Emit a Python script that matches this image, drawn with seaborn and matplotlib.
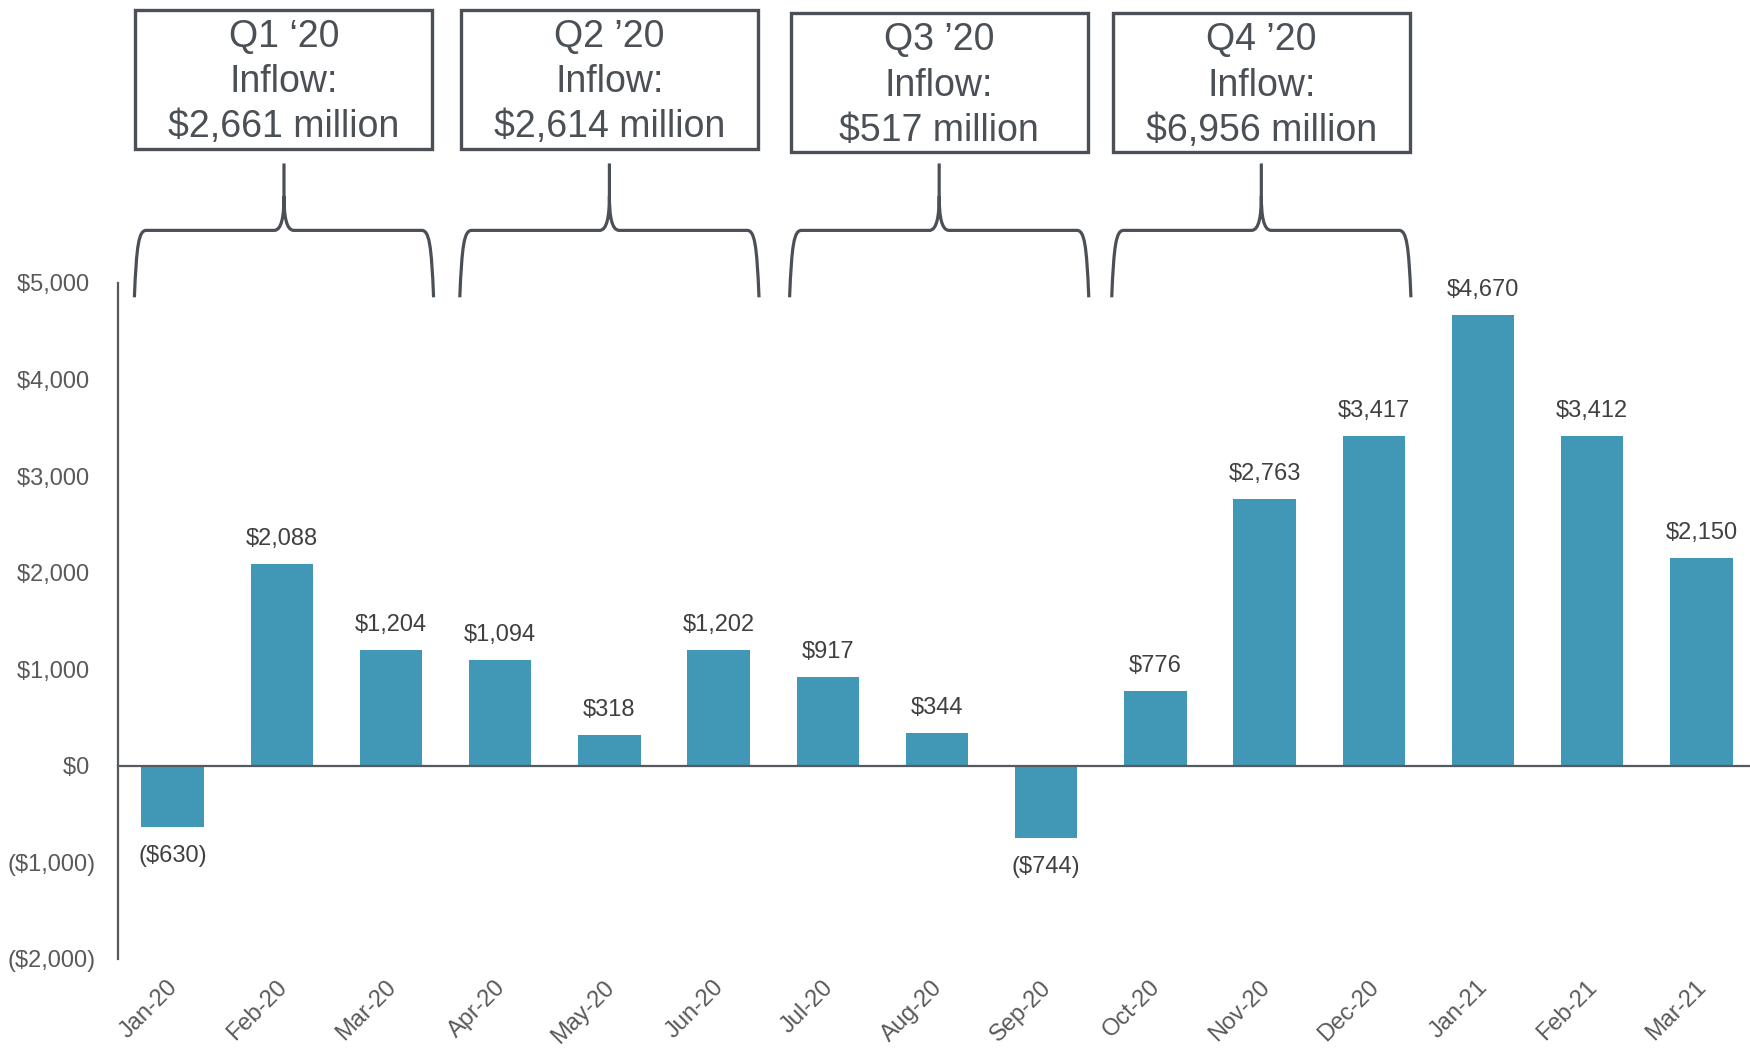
import matplotlib
matplotlib.use("Agg")
import matplotlib.pyplot as plt
import seaborn as sns
import pandas as pd
import numpy as np
from matplotlib.path import Path
from matplotlib.patches import PathPatch, Rectangle
from matplotlib.transforms import ScaledTranslation

# ---------------- data ----------------
months = ["Jan-20", "Feb-20", "Mar-20", "Apr-20", "May-20", "Jun-20", "Jul-20",
          "Aug-20", "Sep-20", "Oct-20", "Nov-20", "Dec-20", "Jan-21", "Feb-21", "Mar-21"]
flows = [-630, 2088, 1204, 1094, 318, 1202, 917, 344, -744, 776, 2763, 3417, 4670, 3412, 2150]

quarter_titles = ["Q1 \u201820", "Q2 \u201920", "Q3 \u201920", "Q4 \u201920"]
quarter_inflows = [2661, 2614, 517, 6956]

y_ticks = [-2000, -1000, 0, 1000, 2000, 3000, 4000, 5000]
y_tick_labels = ["($2,000)", "($1,000)", "$0 ", "$1,000 ", "$2,000 ", "$3,000 ", "$4,000 ", "$5,000 "]

# ---------------- style ----------------
BAR = "#4197b6"
AXC = "#555a60"
TICKC = "#595959"
LBLC = "#404040"
BOXC = "#4b5057"

sns.set_style("white")
plt.rcParams["font.family"] = ["Liberation Sans", "DejaVu Sans"]

fig = plt.figure(figsize=(17.5, 10.48), dpi=100)
W, H = 1750, 1048
ax = fig.add_axes([118 / W, 1 - 959 / H, 1638 / W, (959 - 283) / H])

df = pd.DataFrame({"month": months, "flow": flows})
sns.barplot(data=df, x="month", y="flow", order=months, color=BAR, saturation=1,
            width=0.57, linewidth=0, ax=ax)

ax.set_xlim(-0.5, len(months) - 0.5)
ax.set_ylim(-2000, 5000)
ax.set_xlabel("")
ax.set_ylabel("")

# bar value labels
bars = ax.containers[0]
pos_labels = [f"${v:,}" if v >= 0 else "" for v in flows]
neg_labels = [f"(${-v:,})" if v < 0 else "" for v in flows]
ax.bar_label(bars, labels=pos_labels, padding=10, fontsize=17, color=LBLC)
ax.bar_label(bars, labels=neg_labels, padding=13, fontsize=17, color=LBLC)

# spines
for s in ["top", "right"]:
    ax.spines[s].set_visible(False)
ax.spines["bottom"].set_position(("data", 0))
for s in ["left", "bottom"]:
    ax.spines[s].set_color(AXC)
    ax.spines[s].set_linewidth(1.6)

# x: boundary ticks on zero line, labels at the bottom
ax.set_xticks(range(len(months)))
ax.set_xticklabels([])
ax.tick_params(axis="x", which="major", length=0)
ax.set_xticks(np.arange(0.5, len(months), 1), minor=True)
ax.tick_params(axis="x", which="minor", length=6, width=1.6, color=AXC, direction="out")

sec = ax.secondary_xaxis(0)
sec.set_xticks(range(len(months)), labels=months, rotation=45, ha="right",
               rotation_mode="anchor")
sec.tick_params(length=0, pad=12.5, labelsize=17, labelcolor=TICKC)
sec.spines["bottom"].set_visible(False)
off = ScaledTranslation(-6 / 100, 0, fig.dpi_scale_trans)
for lbl in sec.get_xticklabels():
    lbl.set_transform(lbl.get_transform() + off)

# y ticks
ax.set_yticks(y_ticks, labels=y_tick_labels)
ax.tick_params(axis="y", length=5.5, width=1.6, color=AXC, pad=10.5,
               labelsize=17, labelcolor=TICKC, direction="out")

# ---------------- quarter braces and boxes ----------------
y_leg, y_hor, y_bend, y_peak = 4852, 5545, 5900, 6238
box_lo, box_hi = 6390, 7830
x_shift = [0.02, 0.0, 0.02, -0.03]
y_shift = [0, 0, -35, -35]
for q, (title, inflow) in enumerate(zip(quarter_titles, quarter_inflows)):
    c = 3 * q + 1 + x_shift[q]
    dy = y_shift[q]
    verts = [
        (c - 1.37, y_leg), (c - 1.35, 5400), (c - 1.33, y_hor), (c - 1.26, y_hor),
        (c - 0.09, y_hor),
        (c - 0.02, y_hor), (c, 5700), (c, y_bend),
        (c, y_peak),
        (c, y_bend), (c, 5700), (c + 0.02, y_hor), (c + 0.09, y_hor),
        (c + 1.26, y_hor),
        (c + 1.33, y_hor), (c + 1.35, 5400), (c + 1.37, y_leg),
    ]
    codes = [Path.MOVETO, Path.CURVE4, Path.CURVE4, Path.CURVE4,
             Path.LINETO,
             Path.CURVE4, Path.CURVE4, Path.CURVE4,
             Path.LINETO,
             Path.MOVETO, Path.CURVE4, Path.CURVE4, Path.CURVE4,
             Path.LINETO,
             Path.CURVE4, Path.CURVE4, Path.CURVE4]
    ax.add_patch(PathPatch(Path(verts, codes), fill=False, edgecolor=BOXC, lw=2.3,
                           clip_on=False, capstyle="butt", joinstyle="round"))
    ax.add_patch(Rectangle((c - 1.36, box_lo + dy), 2.72, box_hi - box_lo, fill=False,
                           edgecolor=BOXC, lw=2.4, clip_on=False))
    ax.text(c, (box_lo + box_hi) / 2 - 30 + dy, f"{title}\nInflow:\n${inflow:,} million",
            ha="center", va="center", multialignment="center", fontsize=27,
            color=BOXC, linespacing=1.33, clip_on=False)

fig.savefig("out.png", dpi=100, facecolor="white")
